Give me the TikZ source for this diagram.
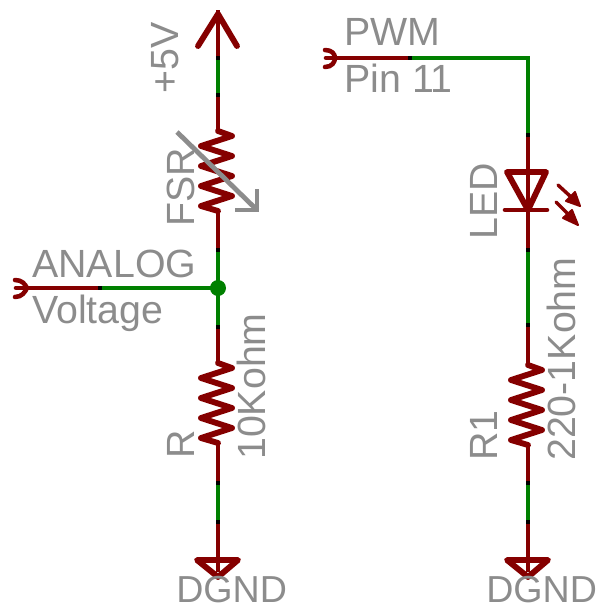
\documentclass[tikz,border=0pt]{standalone}
\usepackage{fontspec}
\setmainfont{Liberation Sans}
\usepackage{xcolor}
\usetikzlibrary{calc}
\definecolor{partred}{HTML}{850000}
\definecolor{wiregreen}{HTML}{008000}
\definecolor{labelgray}{HTML}{8C8C8C}
\tikzset{
    part/.style={draw=partred, line width=4.4pt, line join=round, line cap=round},
    stub/.style={draw=partred, line width=3pt},
    wire/.style={draw=wiregreen, line width=3pt},
    label/.style={text=labelgray, inner sep=0pt, anchor=base west, font=\fontsize{29.5}{31}\selectfont},
    vlabel/.style={label, rotate=90},
    gndlabel/.style={label, font=\fontsize{28.2}{30}\selectfont},
    gauge/.style={draw=labelgray, line width=3.6pt, line join=miter}
}
\newcommand{\reszig}{-- ++(14,5) -- ++(-31,10) -- ++(31,10) -- ++(-31,10) -- ++(31,10) -- ++(-31,10) -- ++(31,10) -- ++(-31,10) -- ++(17,5)}
\begin{document}
\begin{tikzpicture}[x=0.75pt, y=-0.75pt]
    \useasboundingbox (0,0) rectangle (597,608);

    % Left column
    \coordinate (vcc) at (218,14);
    \coordinate (vcca) at (218,58);
    \coordinate (vccb) at (218,95);
    \coordinate (fsrtop) at (218,131);
    \coordinate (fsrbot) at (218,212);
    \coordinate (fsrw) at (218,250);
    \coordinate (rw) at (218,327);
    \coordinate (rtop) at (218,363);
    \coordinate (rbot) at (218,443);
    \coordinate (gnda) at (218,483);
    \coordinate (gndb) at (218,522);
    \coordinate (gnd) at (218,572);

    \draw[stub] (218,10) -- (vcca);
    \draw[wire] (vcca) -- (vccb);
    \draw[stub] (vccb) -- (fsrtop);
    \draw[stub] (fsrbot) -- (fsrw);
    \draw[wire] (fsrw) -- (rw);
    \draw[stub] (rw) -- (rtop);
    \draw[stub] (rbot) -- (gnda);
    \draw[wire] (gnda) -- (gndb);
    \draw[stub] (gndb) -- (gnd);

    % +5V supply
    \draw[part] (198,46) -- (vcc) -- (237,46);
    \node[vlabel] (vcclabel) at (178,94) {+5V};

    % FSR
    \draw[part] (fsrtop) \reszig;
    \draw[gauge] (177,132) -- (256,209);
    \draw[gauge] (235,210) -- (257,210) -- (257,189);
    \node[vlabel] (fsrlabel) at (194,227) {FSR};

    % Analog pin
    \coordinate (apin) at (27,288);
    \coordinate (awire) at (100,288);
    \coordinate (ajoin) at (218,288);
    \draw[stub] (apin) -- (awire);
    \draw[wire] (awire) -- (ajoin);
    \draw[part, line width=3.4pt] (15,280) .. controls (22,280) and (25,284) .. (apin) .. controls (25,292) and (22,297) .. (15,297);
    \draw[part, line width=3.4pt] (16,288) -- (apin);
    \fill[wiregreen] (ajoin) circle (6pt);
    \node[label] (analog) at (32,277) {ANALOG};
    \node[label] (voltage) at (32,323) {Voltage};

    % R
    \draw[part] (rtop) \reszig;
    \node[vlabel] (rlabel) at (194,459) {R};
    \node[vlabel] (rvalue) at (265,460) {10Kohm};

    % Left ground
    \draw[part] (197,560) -- (238,560) -- (218,577) -- cycle;
    \node[gndlabel] (gndleft) at (176,602) {DGND};

    % Right column
    \coordinate (pin) at (335,58);
    \coordinate (pinw) at (410,58);
    \coordinate (corner) at (528,58);
    \coordinate (ledw) at (528,135);
    \coordinate (ledtop) at (528,171);
    \coordinate (ledbot) at (528,210);
    \coordinate (r1a) at (528,250);
    \coordinate (r1b) at (528,325);
    \coordinate (r1top) at (528,365);
    \coordinate (r1bot) at (528,445);
    \coordinate (gndc) at (528,483);
    \coordinate (gndd) at (528,522);
    \coordinate (gnde) at (528,572);

    \draw[stub] (pin) -- (pinw);
    \draw[wire, line join=miter] (pinw) -- (corner) -- (ledw);
    \draw[stub] (ledw) -- (ledtop);
    \draw[stub] (ledbot) -- (r1a);
    \draw[wire] (r1a) -- (r1b);
    \draw[stub] (r1b) -- (r1top);
    \draw[stub] (r1bot) -- (gndc);
    \draw[wire] (gndc) -- (gndd);
    \draw[stub] (gndd) -- (gnde);

    % PWM pin
    \draw[part, line width=3.4pt] (325,50) .. controls (332,50) and (335,54) .. (pin) .. controls (335,62) and (332,67) .. (325,67);
    \draw[part, line width=3.4pt] (326,58) -- (pin);
    \node[label] (pwm) at (344,45) {PWM};
    \node[label] (pinlabel) at (344,92) {Pin 11};

    % LED
    \draw[part] (507,172) -- (546,172) -- (ledbot) -- cycle;
    \draw[stub] (ledtop) -- (ledbot);
    \draw[part, line width=3.4pt] (505,210) -- (547,210);
    \draw[part, line width=2.6pt] (558,185) -- (570,196);
    \draw[part, line width=1.5pt, fill=partred] (580,206) -- (566,201) -- (575,192) -- cycle;
    \draw[part, line width=2.6pt] (556,202) -- (568,214);
    \draw[part, line width=1.5pt, fill=partred] (578,225) -- (563,218) -- (572,210) -- cycle;
    \node[vlabel] (ledlabel) at (497,240) {LED};

    % R1
    \draw[part] (r1top) \reszig;
    \node[vlabel] (r1label) at (497,461) {R1};
    \node[vlabel] (r1value) at (575,461) {220-1Kohm};

    % Right ground
    \draw[part] (507,560) -- (548,560) -- (528,577) -- cycle;
    \node[gndlabel] (gndright) at (486,602) {DGND};

    % Joints between wire and part
    \foreach \pt in {vcca,vccb,fsrw,rw,awire,gnda,gndb,pinw,ledw,r1a,r1b,gndc,gndd}
        \fill[black] ($(\pt)+(-2,-2)$) rectangle ($(\pt)+(2,2)$);
\end{tikzpicture}
\end{document}
